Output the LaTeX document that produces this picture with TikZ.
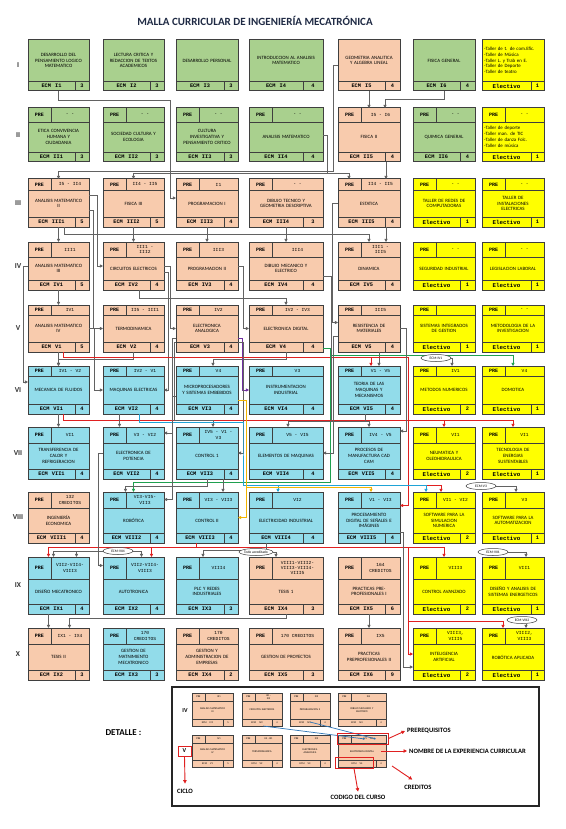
\documentclass[tikz,border=0pt]{standalone}
\usepackage{fontspec}
\setmainfont{Carlito}
\newfontfamily\monof{Liberation Mono}
\usetikzlibrary{arrows.meta,shapes.geometric}
\definecolor{cgreen}{HTML}{A9D08E}
\definecolor{csalmon}{HTML}{F8CBAD}
\definecolor{ccyan}{HTML}{92DCEA}
\definecolor{cyell}{HTML}{FFFF00}
\definecolor{cline}{HTML}{3F3F3F}
\definecolor{cconn}{HTML}{626262}
\definecolor{cred}{HTML}{E02020}
\definecolor{cgrn}{HTML}{1FA04F}
\definecolor{cblu}{HTML}{1FA3D6}
\definecolor{cyel}{HTML}{F2B400}
\definecolor{cpur}{HTML}{7030A0}
\definecolor{cdblue}{HTML}{2E75B6}
\definecolor{ctitle}{HTML}{1F2A44}

\newcommand\gcolL[1]{\ifcase#1\or28\or103\or176\or249\or338\or413\or482\fi}
\newcommand\gcolW[1]{\ifcase#1\or61\or61\or62\or74\or62\or62\or62\fi}
\newcommand\gcolK[1]{\ifcase#1\or14\or14\or14\or20\or15\or15\or13\fi}
\newcommand\growT[1]{\ifcase#1\or40\or108\or179\or242\or305\or366\or427\or492\or557\or628\fi}
\newcommand\growH[1]{\ifcase#1\or51\or54\or48\or48\or47\or48\or52\or51\or57\or52\fi}
\newcommand\growP[1]{\ifcase#1\or0\or14\or11\or15\or10\or10\or16\or16\or22\or16\fi}
\newcommand\lleftbox[1]{\parbox{58pt}{\raggedright #1}}

\newcommand\coursebox[9]{%
 \edef\bL{\gcolL{#2}}\edef\bW{\gcolW{#2}}\edef\bK{\gcolK{#2}}%
 \edef\bT{\growT{#3}}\edef\bH{\growH{#3}}\edef\bP{\growP{#3}}%
 \pgfmathsetmacro\bX{\bL+\bW/2}%
 \pgfmathsetmacro\bY{\bT+\bH/2}%
 \node[cbx,fill=#4,minimum width=\bW pt,minimum height=\bH pt] (#1) at (\bX,\bY) {};%
 \pgfmathsetmacro\bB{\bT+\bH-10}%
 \pgfmathsetmacro\bE{\bT+\bH}%
 \pgfmathsetmacro\bD{\bL+\bW-\bK}%
 \pgfmathsetmacro\bR{\bL+\bW}%
 \draw[cin] (\bL,\bB) -- (\bR,\bB);%
 \draw[cin] (\bD,\bB) -- (\bD,\bE);%
 \pgfmathsetmacro\bU{\bL+(\bW-\bK)/2}%
 \pgfmathsetmacro\bV{\bB+5}%
 \node[#9] (#1-c) at (\bU,\bV) {#7};%
 \pgfmathsetmacro\bZ{\bD+\bK/2}%
 \node[crtxt] (#1-k) at (\bZ,\bV) {#8};%
 \ifnum\bP>0
   \pgfmathsetmacro\bPa{\bT+\bP}%
   \pgfmathsetmacro\bPd{\bL+23}%
   \pgfmathsetmacro\bPm{\bT+\bP/2}%
   \pgfmathsetmacro\bPl{\bL+11.5}%
   \pgfmathsetmacro\bPx{\bL+23+(\bW-23)/2}%
   \draw[cin] (\bL,\bPa) -- (\bR,\bPa);%
   \draw[cin] (\bPd,\bT) -- (\bPd,\bPa);%
   \node[pretxt] (#1-p) at (\bPl,\bPm) {PRE};%
   \node[preqtxt] (#1-q) at (\bPx,\bPm) {#5};%
 \fi
 \pgfmathsetmacro\bM{\bT+(\bP+\bH-10)/2}%
 \pgfmathsetmacro\bN{\bW-3}%
 \node[nmtxt,text width=\bN pt] (#1-n) at (\bX,\bM) {#6};%
}
\newcommand\mkcrs[8]{\coursebox{#1}{#2}{#3}{#4}{#5}{#6}{ECM\hspace{4pt}#7}{#8}{codetxt}}
\newcommand\mkelv[6]{\coursebox{#1}{#2}{#3}{cyell}{#4}{#5}{Electivo}{#6}{eletxt}}

\newcommand\mkmini[9]{%
 \pgfmathsetmacro\mX{#2+#4/2}\pgfmathsetmacro\mY{#3+#5/2}%
 \node[mbx,minimum width=#4pt,minimum height=#5pt] (#1) at (\mX,\mY) {};%
 \pgfmathsetmacro\mA{#3+8}\pgfmathsetmacro\mR{#2+#4}\pgfmathsetmacro\mD{#2+13}%
 \draw[minl] (#2,\mA) -- (\mR,\mA);%
 \draw[minl] (\mD,#3) -- (\mD,\mA);%
 \pgfmathsetmacro\mB{#3+#5-7}\pgfmathsetmacro\mE{#3+#5}\pgfmathsetmacro\mC{#2+#4-10}%
 \draw[minl] (#2,\mB) -- (\mR,\mB);%
 \draw[minl] (\mC,\mB) -- (\mC,\mE);%
 \pgfmathsetmacro\mPa{#2+6.5}\pgfmathsetmacro\mPb{#3+4}\pgfmathsetmacro\mPc{(\mD+\mR)/2}%
 \node[mtxt] (#1-p) at (\mPa,\mPb) {PRE};%
 \node[mtxt,align=center] (#1-q) at (\mPc,\mPb) {#6};%
 \pgfmathsetmacro\mN{(\mA+\mB)/2}\pgfmathsetmacro\mW{#4-2}%
 \node[mtxt,text width=\mW pt,align=center] (#1-n) at (\mX,\mN) {#7};%
 \pgfmathsetmacro\mCa{(#2+\mC)/2}\pgfmathsetmacro\mCb{\mB+3.5}\pgfmathsetmacro\mCc{\mC+5}%
 \node[mtxt] (#1-c) at (\mCa,\mCb) {ECM\hspace{3pt}#8};%
 \node[mtxt] (#1-k) at (\mCc,\mCb) {#9};%
}

\begin{document}
\begin{tikzpicture}[x=1pt,y=-1pt,
 cbx/.style={draw=cline,line width=1pt,inner sep=0pt,outer sep=0pt},
 cin/.style={draw=cline,line width=0.6pt},
 nmtxt/.style={font=\fontsize{4.9}{5.8}\selectfont,align=center,inner sep=0pt},
 pretxt/.style={font=\monof\bfseries\fontsize{5}{5}\selectfont,inner sep=0pt},
 preqtxt/.style={font=\monof\fontsize{4.6}{5.2}\selectfont,align=center,inner sep=0pt},
 codetxt/.style={font=\monof\bfseries\fontsize{5.3}{5.3}\selectfont,inner sep=0pt},
 eletxt/.style={font=\monof\bfseries\fontsize{5.8}{5.8}\selectfont,inner sep=0pt},
 crtxt/.style={font=\monof\bfseries\fontsize{5.3}{5.3}\selectfont,inner sep=0pt},
 rom/.style={font=\bfseries\fontsize{7.5}{7.5}\selectfont,text=black!80},
 conn/.style={draw=cconn,line width=0.7pt,-{Triangle[length=3.2pt,width=3.2pt]}},
 redc/.style={conn,draw=cred},
 grnc/.style={conn,draw=cgrn},
 cync/.style={conn,draw=cblu},
 yelc/.style={conn,draw=cyel},
 purc/.style={conn,draw=cpur},
 oval/.style={ellipse,draw=cline,line width=0.5pt,fill=white,inner sep=0.3pt,minimum width=30pt,minimum height=7pt,font=\fontsize{3.6}{3.6}\selectfont},
 mbx/.style={draw=cline,line width=0.5pt,fill=csalmon,inner sep=0pt,outer sep=0pt},
 minl/.style={draw=cline,line width=0.3pt},
 mtxt/.style={font=\fontsize{2.6}{3}\selectfont,inner sep=0pt},
 anntxt/.style={font=\bfseries\fontsize{6.6}{6.6}\selectfont,inner sep=0pt},
 redarr/.style={draw=cred,line width=0.9pt,-{Triangle[length=3.5pt,width=3.5pt]}},
 bluc/.style={draw=cdblue,line width=0.7pt,-{Triangle[length=2pt,width=2pt]}}]
\fill[white] (0,0) rectangle (565,829);
\useasboundingbox (0,0) rectangle (565,829);

\node[font=\bfseries\fontsize{11}{11}\selectfont,text=ctitle] (title) at (255,21) {MALLA CURRICULAR DE INGENIERÍA MECATRÓNICA};

\node[rom] (rI) at (18,65) {I};
\node[rom] (rII) at (18,135) {II};
\node[rom] (rIII) at (18,203) {III};
\node[rom] (rIV) at (18,266) {IV};
\node[rom] (rV) at (18,328) {V};
\node[rom] (rVI) at (18,390) {VI};
\node[rom] (rVII) at (18,453) {VII};
\node[rom] (rVIII) at (18,517) {VIII};
\node[rom] (rIX) at (18,585) {IX};
\node[rom] (rX) at (18,654) {X};

% Row I
\mkcrs{I1}{1}{1}{cgreen}{}{DESARROLLO DEL\\PENSAMIENTO LOGICO\\MATEMATICO}{I1}{3}
\mkcrs{I2}{2}{1}{cgreen}{}{LECTURA CRITICA Y\\REDACCION DE TEXTOS\\ACADEMICOS}{I2}{3}
\mkcrs{I3}{3}{1}{cgreen}{}{DESARROLLO PERSONAL}{I3}{3}
\mkcrs{I4}{4}{1}{cgreen}{}{INTRODUCCION AL ANALISIS\\MATEMATICO}{I4}{4}
\mkcrs{I5}{5}{1}{csalmon}{}{GEOMETRIA ANALITICA\\Y ALGEBRA LINEAL}{I5}{4}
\mkcrs{I6}{6}{1}{cgreen}{}{FISICA GENERAL}{I6}{4}
\mkelv{I7}{7}{1}{}{\lleftbox{-Taller de t. de com.Efic.\\-Taller de Música\\-Taller L. y Trab en E.\\-Taller de Deporte\\-Taller de teatro}}{1}
% Row II
\mkcrs{II1}{1}{2}{cgreen}{- -}{ETICA CONVIVENCIA\\HUMANA Y\\CIUDADANIA}{II1}{3}
\mkcrs{II2}{2}{2}{cgreen}{- -}{SOCIEDAD CULTURA Y\\ECOLOGIA}{II2}{3}
\mkcrs{II3}{3}{2}{cgreen}{- -}{CULTURA\\INVESTIGATIVA Y\\PENSAMIENTO CRITICO}{II3}{3}
\mkcrs{II4}{4}{2}{cgreen}{- -}{ANALISIS MATEMATICO}{II4}{4}
\mkcrs{II5}{5}{2}{csalmon}{I5 - I6}{FISICA II}{II5}{4}
\mkcrs{II6}{6}{2}{cgreen}{- -}{QUIMICA GENERAL}{II6}{4}
\mkelv{II7}{7}{2}{- -}{\lleftbox{-Taller de deporte\\-Taller man. de TIC\\-Taller de danza Folc.\\-Taller de música}}{1}
% Row III
\mkcrs{III1}{1}{3}{csalmon}{I5 - II4}{ANALISIS MATEMATICO\\II}{III1}{5}
\mkcrs{III2}{2}{3}{csalmon}{II4 - II5}{FISICA III}{III2}{5}
\mkcrs{III3}{3}{3}{csalmon}{I1}{PROGRAMACION I}{III3}{4}
\mkcrs{III4}{4}{3}{csalmon}{- -}{DIBUJO TECNICO Y\\GEOMETRIA DESCRIPTIVA}{III4}{3}
\mkcrs{III5}{5}{3}{csalmon}{II4 - II5}{ESTATICA}{III5}{4}
\mkelv{III6}{6}{3}{- -}{TALLER DE REDES DE\\COMPUTADORAS}{1}
\mkelv{III7}{7}{3}{- -}{TALLER DE\\INSTALACIONES\\ELECTRICAS}{1}
% Row IV
\mkcrs{IV1}{1}{4}{csalmon}{III1}{ANALISIS MATEMATICO\\III}{IV1}{5}
\mkcrs{IV2}{2}{4}{csalmon}{III1 -\\III2}{CIRCUITOS ELECTRICOS}{IV2}{4}
\mkcrs{IV3}{3}{4}{csalmon}{III3}{PROGRAMACION II}{IV3}{4}
\mkcrs{IV4}{4}{4}{csalmon}{III4}{DIBUJO MECANICO Y\\ELECTRICO}{IV4}{4}
\mkcrs{IV5}{5}{4}{csalmon}{III1 -\\III5}{DINAMICA}{IV5}{4}
\mkelv{IV6}{6}{4}{- -}{SEGURIDAD INDUSTRIAL}{1}
\mkelv{IV7}{7}{4}{- -}{LEGISLACION LABORAL}{1}
% Row V
\mkcrs{V1}{1}{5}{csalmon}{IV1}{ANALISIS MATEMATICO\\IV}{V1}{5}
\mkcrs{V2}{2}{5}{csalmon}{II5 - III1}{TERMODINAMICA}{V2}{4}
\mkcrs{V3}{3}{5}{csalmon}{IV2}{ELECTRONICA\\ANALOGICA}{V3}{4}
\mkcrs{V4}{4}{5}{csalmon}{IV2 - IV3}{ELECTRONICA DIGITAL}{V4}{4}
\mkcrs{V5}{5}{5}{csalmon}{III5}{RESISTENCIA DE\\MATERIALES}{V5}{4}
\mkelv{V6}{6}{5}{}{SISTEMAS INTEGRADOS\\DE GESTION}{1}
\mkelv{V7}{7}{5}{- -}{METODOLOGIA DE LA\\INVESTIGACION}{1}
% Row VI
\mkcrs{VI1}{1}{6}{ccyan}{IV1 - V2}{MECANICA DE FLUIDOS}{VI1}{4}
\mkcrs{VI2}{2}{6}{ccyan}{IV2 - V1}{MAQUINAS ELECTRICAS}{VI2}{4}
\mkcrs{VI3}{3}{6}{ccyan}{V4}{MICROPROCESADORES\\Y SISTEMAS EMBEBIDOS}{VI3}{4}
\mkcrs{VI4}{4}{6}{ccyan}{V3}{INSTRUMENTACION\\INDUSTRIAL}{VI4}{4}
\mkcrs{VI5}{5}{6}{ccyan}{V1 - V5}{TEORIA DE LAS\\MAQUINAS Y\\MECANISMOS}{VI5}{4}
\mkelv{VI6}{6}{6}{IV1}{METODOS NUMERICOS}{2}
\mkelv{VI7}{7}{6}{V4}{DOMOTICA}{1}
% Row VII
\mkcrs{VII1}{1}{7}{ccyan}{VI1}{TRANSFERENCIA DE\\CALOR Y\\REFRIGERACION}{VII1}{4}
\mkcrs{VII2}{2}{7}{ccyan}{V3 - VI2}{ELECTRONICA DE\\POTENCIA}{VII2}{4}
\mkcrs{VII3}{3}{7}{ccyan}{IV5 - V1 -\\V3}{CONTROL 1}{VII3}{4}
\mkcrs{VII4}{4}{7}{ccyan}{V5 - VI5}{ELEMENTOS DE MAQUINAS}{VII4}{4}
\mkcrs{VII5}{5}{7}{ccyan}{IV4 - V5}{PROCESOS DE\\MANUFACTURA CAD\\CAM}{VII5}{4}
\mkelv{VII6}{6}{7}{VI1}{NEUMATICA Y\\OLEOHIDRAULICA}{2}
\mkelv{VII7}{7}{7}{VI1}{TECNOLOGIA DE\\ENERGIAS\\SUSTENTABLES}{1}
% Row VIII
\mkcrs{VIII1}{1}{8}{csalmon}{132\\CREDITOS}{INGENIERÍA\\ECONOMICA}{VIII1}{4}
\mkcrs{VIII2}{2}{8}{ccyan}{VI3-VI5-\\VII3}{ROBÓTICA}{VIII2}{4}
\mkcrs{VIII3}{3}{8}{ccyan}{VI3 - VII3}{CONTROL II}{VIII3}{4}
\mkcrs{VIII4}{4}{8}{ccyan}{VI2}{ELECTRICIDAD INDUSTRIAL}{VIII4}{4}
\mkcrs{VIII5}{5}{8}{ccyan}{V1 - VI3}{PROCESAMIENTO\\DIGITAL DE SEÑALES E\\IMÁGINES}{VIII5}{4}
\mkelv{VIII6}{6}{8}{VI1 - VI2}{SOFTWARE PARA LA\\SIMULACION\\NUMERICA}{2}
\mkelv{VIII7}{7}{8}{V3}{SOFTWARE PARA LA\\AUTOMATIZACION}{1}
% Row IX
\mkcrs{IX1}{1}{9}{ccyan}{VII2-VII4-\\VIII3}{DISEÑO MECATRONICO}{IX1}{4}
\mkcrs{IX2}{2}{9}{ccyan}{VII2-VII4-\\VIII3}{AUTOTRONICA}{IX2}{4}
\mkcrs{IX3}{3}{9}{ccyan}{VIII4}{PLC Y REDES\\INDUSTRIALES}{IX3}{3}
\mkcrs{IX4}{4}{9}{csalmon}{VIII1-VIII2-\\VIII3-VIII4-\\VIII5}{TESIS 1}{IX4}{3}
\mkcrs{IX5}{5}{9}{csalmon}{164\\CREDITOS}{PRACTICAS PRE-\\PROFESIONALES I}{IX5}{6}
\mkelv{IX6}{6}{9}{VIII3}{CONTROL AVANZADO}{2}
\mkelv{IX7}{7}{9}{VII1}{DISEÑO Y ANALISIS DE\\SISTEMAS ENERGETICOS}{1}
% Row X
\mkcrs{X1}{1}{10}{csalmon}{IX1 - IX4}{TESIS II}{IX2}{3}
\mkcrs{X2}{2}{10}{ccyan}{170\\CREDITOS}{GESTION DE\\MATNIMIENTO\\MECATRONICO}{IX3}{3}
\mkcrs{X3}{3}{10}{csalmon}{170\\CREDITOS}{GESTION Y\\ADMINISTRACION DE\\EMPRESAS}{IX4}{2}
\mkcrs{X4}{4}{10}{csalmon}{170 CREDITOS}{GESTION DE PROYECTOS}{IX5}{3}
\mkcrs{X5}{5}{10}{csalmon}{IX5}{PRACTICAS\\PREPROFESIONALES II}{IX6}{9}
\mkelv{X6}{6}{10}{VIII3,\\VIII5}{INTELIGENCIA\\ARTIFICIAL}{2}
\mkelv{X7}{7}{10}{VIII2,\\VIII3}{ROBÓTICA APLICADA}{1}

% ---------- connectors ----------
\draw[conn] (I5.south) -- (II5.north);
\draw[conn] (I6.south) -- ++(0,8) -| ([xshift=16pt]II5.north);
\draw[conn] (I1.south) -- ++(0,9) -| ([xshift=-6pt,yshift=5pt]III3.west) -- ([yshift=5pt]III3.west);
\draw[conn] (I5.west) -- ++(-5,0) |- ([yshift=8pt]III1.north) -- (III1.north);
\draw[conn] (II4.east) -- ++(4,0) |- ([yshift=6pt]III2.north) -- (III2.north);
\draw[conn] (II4.east) -- ++(4,0) |- ([xshift=-20pt,yshift=6pt]III5.north) -- ([xshift=-20pt]III5.north);
\draw[conn] ([xshift=17pt]II5.south) -- ([xshift=17pt]III5.north);
\draw[conn] (III1.south) -- (IV1.north);
\draw[conn] (III2.south) -- (IV2.north);
\draw[conn] (III3.south) -- (IV3.north);
\draw[conn] (III4.south) -- (IV4.north);
\draw[conn] ([xshift=6pt]III1.south) |- ([yshift=8pt]IV5.north) -- (IV5.north);
\draw[conn] ([xshift=17pt]III5.south) -- ([xshift=17pt]IV5.north);
\draw[conn] ([yshift=8pt]III1.east) -- ++(8,0) |- (IV2.west);
\draw[conn] ([yshift=-7pt]III1.east) -- ++(4,0) |- (V2.west);
\draw[conn] (IV1.south) -- (V1.north);
\draw[conn] (IV2.east) -- ++(6,0) |- (V3.west);
\draw[conn] (IV3.east) -- ++(5,0) |- (V4.west);
\draw[conn] ([xshift=6pt]IV2.south) |- ([yshift=7pt]V4.north) -- (V4.north);
\draw[conn] (III5.west) -- ++(-6,0) |- ([yshift=6pt]V5.west);
\draw[conn] (IV1.west) -- ++(-5,0) |- ([yshift=8pt]VI1.west);
\draw[conn] (V1.south) -- (VI1.north);
\draw[conn] (V2.south) |- ([yshift=7pt]VI1.north) -- (VI1.north);
\draw[conn] (V1.east) -- ++(5,0) |- (VI2.west);
\draw[conn] ([yshift=-6pt]IV2.east) -- ++(4,0) |- (VI2.east);
\draw[conn] (V4.south) |- ([xshift=6pt,yshift=7pt]VI3.north) -- ([xshift=6pt]VI3.north);
\draw[conn] ([xshift=10pt]V5.south) -- ([xshift=10pt]VI5.north);
\draw[purc] ([yshift=-10pt]V3.east) -- ++(4,0) |- (VI4.west);
\draw[redc] ([xshift=5pt]V1.south) |- ([xshift=8pt,yshift=-5pt]V5.south east) |- ([yshift=12pt]VIII5.east);
\draw[redc] ([xshift=2pt,yshift=9pt]VI5.north) -- ([xshift=2pt]VI5.north);
\draw[grnc] ([yshift=4pt]V4.south east) -- ++(7,0) |- ([yshift=11pt]VI7.north) -- (VI7.north);
\draw[grnc] ([yshift=4pt]V4.south east) -- ++(7,0) |- ([yshift=10pt]VIII2.north) -- (VIII2.north);
\draw[conn] (VI1.south) -- (VII1.north);
\draw[redc] ([xshift=5pt]VI1.south) |- ([yshift=7pt]VII7.north) -- (VII7.north);
\draw[redc] ([yshift=7pt]VII6.north) -- (VII6.north);
\draw[redc] ([xshift=8pt,yshift=-7pt]VI5.south east) |- ([xshift=-3pt,yshift=7pt]VIII6.north) -- ([xshift=-3pt]VIII6.north);
\draw[conn] ([xshift=-14pt]VI2.south) -- ([xshift=-14pt]VII2.north);
\draw[conn] ([yshift=-10pt]V3.west) -- ++(-4,0) |- ([yshift=20pt]VII2.east);
\draw[conn] ([yshift=-14pt]V3.west) -- ++(-2,0) |- ([xshift=6pt,yshift=7pt]VII3.north) -- ([xshift=6pt]VII3.north);
\draw[conn] ([yshift=-14pt]V3.east) -- ++(5,0) |- (VII3.east);
\draw[conn] ([xshift=-4pt]VI5.south) |- ([xshift=2pt,yshift=6pt]VII4.north) -- ([xshift=2pt]VII4.north);
\draw[conn] ([yshift=-8pt]V5.west) -- ++(-5,0) |- (VII4.east);
\draw[conn] (V5.east) -- ++(6,0) |- ([yshift=22pt]VII5.east);
\draw[conn] ([yshift=-10pt]IV4.east) -- ++(8,0) |- ([yshift=6pt]VII5.north) -- (VII5.north);
\draw[cync] ([xshift=6pt]VI2.south) -- ++(0,8) -| ([xshift=-6pt]VII4.north west) |- ([xshift=-8pt,yshift=7pt]VIII4.north) -- ([xshift=-8pt]VIII4.north);
\draw[cync] ([xshift=-8pt,yshift=7pt]VIII4.north) -| ([xshift=-18pt]VIII6.north);
\draw[yelc] ([yshift=-10pt]VI3.east) -- ++(8,0) |- (VIII3.east);
\draw[yelc] ([xshift=8pt,yshift=-10pt]VI3.east) |- ([xshift=2pt,yshift=5pt]VIII5.north) -- ([xshift=2pt]VIII5.north);
\draw[conn] (VII3.south) |- ([xshift=-8pt,yshift=6pt]VIII2.north) -- ([xshift=-8pt]VIII2.north);
\draw[conn] ([xshift=16pt]VII3.south) -- ([xshift=16pt]VIII3.north);
\draw[conn] ([yshift=-6pt]VI3.west) -- ++(-4,0) |- ([yshift=18pt]VIII2.east);
\draw[redc] ([xshift=-11pt]VIII3.south) |- ([xshift=-10pt,yshift=10pt]IX1.north) -- ([xshift=-10pt]IX1.north);
\draw[redc] ([xshift=18pt,yshift=10pt]IX2.north) -- ([xshift=18pt]IX2.north);
\draw[redc] ([xshift=-11pt]VIII3.south) |- ([xshift=8pt,yshift=-4pt]VIII5.south east) |- (X6.west);
\draw[redc] ([xshift=8pt,yshift=-4pt]VIII5.south east) -| (IX6.north);
\draw[redc] ([xshift=8pt,yshift=-7pt]IX5.south east) -| ([xshift=-10pt]X7.north);
\draw[conn] (VII2.west) -- ++(-5,0) |- ([yshift=20pt]IX2.west);
\draw[conn] ([xshift=-20pt]VIII4.south) -- ++(0,7) -| ([xshift=-4pt]IX3.north);
\draw[conn] ([xshift=-10pt]IX1.south) -- ([xshift=-10pt]X1.north);
\draw[conn] (IX4.south) -- ++(0,4) -| ([xshift=11pt]X1.north);
\draw[conn] (IX5.south) -- (X5.north);
\draw[conn] ([yshift=-15pt]VIII5.east) -- ++(3,0) |- ([yshift=-13pt]X6.west);

% ovals
\node[oval] (oiv1) at (436,358) {ECM-IV1};
\draw[conn] (oiv1.east) -| ([xshift=8pt]VI6.north);
\node[oval] (ov3) at (481,486) {ECM-V3};
\draw[conn] (ov3.east) -| ([xshift=3pt]VIII7.north);
\node[oval] (ov4) at (118,551) {ECM-VII4};
\draw[conn] (ov4.west) -| ([xshift=-5pt]IX1.north);
\draw[conn] (ov4.west) -| ([xshift=18pt]IX1.north);
\draw[conn] (ov4.east) -| ([xshift=8pt]IX2.north);
\node[oval] (otodo) at (256,552) {Todo acreditado};
\draw[conn] (otodo.east) -| ([xshift=-10pt]IX4.north);
\node[oval] (ov71) at (493,552) {ECM-VII1};
\draw[conn] (ov71.east) -| ([xshift=13pt]IX7.north);
\node[oval] (ov82) at (522,620) {ECM-VIII2};
\draw[conn] ([xshift=4pt]ov82.south) -- ([xshift=13pt]X7.north);

% ---------- detail ----------
\node[font=\bfseries\fontsize{9}{9}\selectfont,anchor=west] (detl) at (102,733) {DETALLE :};
\node[draw=black!85,line width=1.3pt,minimum width=367pt,minimum height=119pt,inner sep=0pt] (detail) at (355.5,746.5) {};
\mkmini{m1}{192}{693}{41}{33}{III1}{ANALISIS MATEMATICO\\III}{IV1}{5}
\mkmini{m2}{242}{693}{40}{33}{III1 -\\III2}{CIRCUITOS ELECTRICOS}{IV2}{4}
\mkmini{m3}{290}{693}{40}{33}{III3}{PROGRAMACION II}{IV3}{4}
\mkmini{m4}{338}{693}{48}{33}{III4}{DIBUJO MECANICO Y\\ELECTRICO}{IV4}{4}
\mkmini{m5}{192}{735}{41}{32}{IV1}{ANALISIS MATEMATICO\\IV}{V1}{5}
\mkmini{m6}{242}{735}{40}{32}{II5 - III1}{TERMODINAMICA}{V2}{4}
\mkmini{m7}{290}{735}{40}{32}{IV2}{ELECTRONICA\\ANALOGICA}{V3}{4}
\mkmini{m8}{338}{735}{48}{32}{IV2\hspace{3pt}IV3}{ELECTRONICA DIGITAL}{V4}{4}
\node[font=\bfseries\fontsize{6}{6}\selectfont] (ivlab) at (185,711) {IV};
\node[draw=cred,line width=0.8pt,minimum width=13pt,minimum height=10pt,inner sep=0pt,font=\bfseries\fontsize{6}{6}\selectfont] (vlab) at (184.5,751) {V};
\node[anntxt] (tcic) at (185,791) {CICLO};
\draw[redarr] (vlab.south) -- ([yshift=5pt]tcic.north);
\draw[bluc] ([xshift=1pt]m2.south) -- ([xshift=3pt,yshift=-4pt]m8.north);
\draw[bluc] ([yshift=4pt]m3.south) -- ([xshift=14pt,yshift=-4pt]m8.north);
\node[draw=cred,line width=0.9pt,minimum width=51pt,minimum height=11pt,inner sep=0pt] (rpre) at (362.5,738.5) {};
\node[draw=cred,line width=0.9pt,minimum width=38pt,minimum height=11pt,inner sep=0pt] (recm) at (354,762.5) {};
\node[anntxt,anchor=west] (tpre) at (407,731) {PREREQUISITOS};
\node[anntxt,anchor=west] (tnom) at (409,751) {NOMBRE DE LA EXPERIENCIA CURRICULAR};
\node[anntxt] (tcod) at (358,797) {CODIGO DEL CURSO};
\node[anntxt] (tcre) at (418,787) {CREDITOS};
\draw[redarr] (rpre.east) -- ([xshift=-2pt]tpre.west);
\draw[redarr] ([xshift=-5pt]m8.east) -- ([xshift=-2pt]tnom.west);
\draw[redarr] (recm.south) -- ([yshift=3pt]tcod.north);
\draw[redarr] ([xshift=6pt,yshift=1pt]m8.south east) -- ([xshift=8pt,yshift=5pt]tcre.north west);
\end{tikzpicture}
\end{document}
